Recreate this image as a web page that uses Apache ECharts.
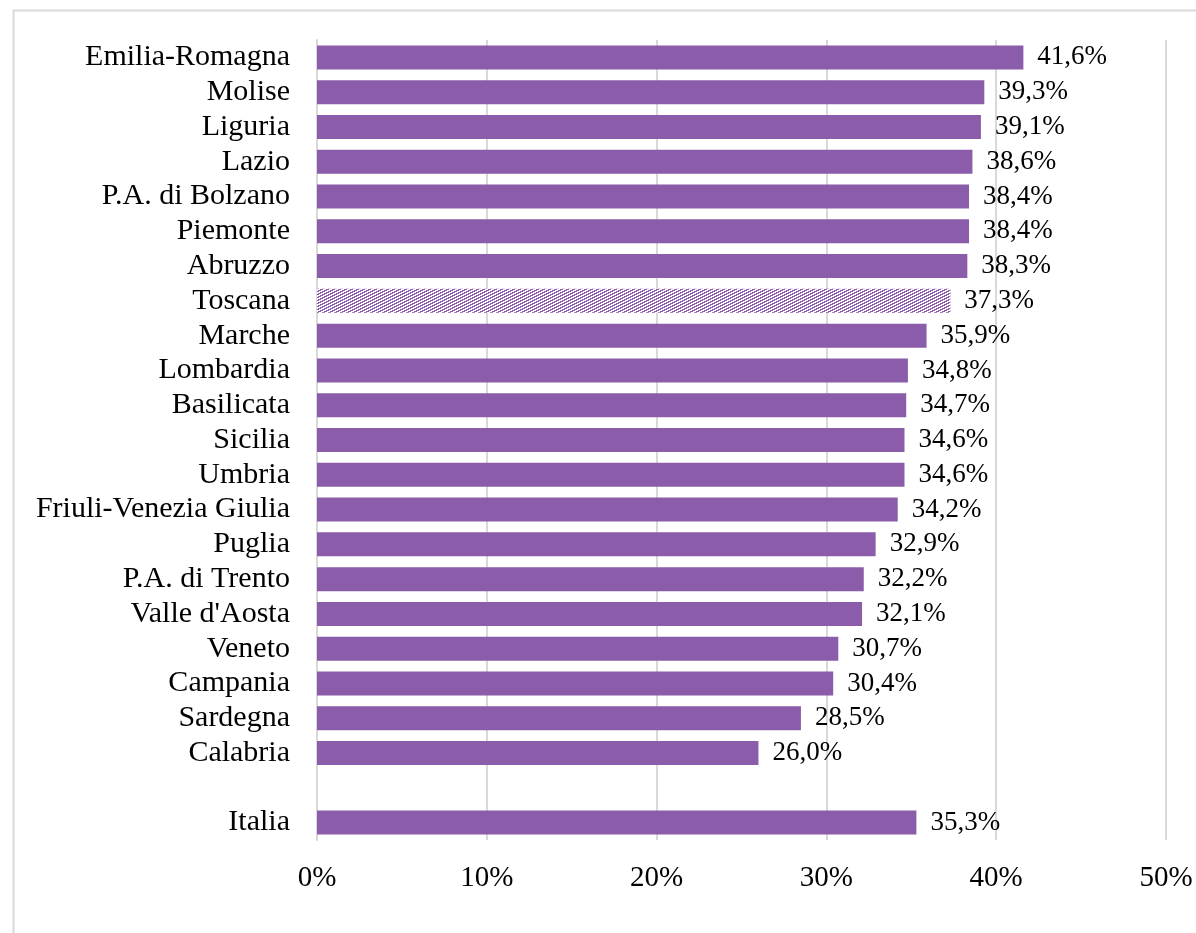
<!DOCTYPE html>
<html>
<head>
<meta charset="utf-8">
<script src="https://cdn.jsdelivr.net/npm/echarts@6/dist/echarts.min.js"></script>
<style>
  html, body { margin: 0; padding: 0; background: #fff; }
  #chart { width: 1196px; height: 933px; }
</style>
</head>
<body>
<div id="chart"></div>
<script>
// regioni (ordinate dall'alto), con una riga vuota prima di Italia
const regions = [
  'Emilia-Romagna', 'Molise', 'Liguria', 'Lazio', 'P.A. di Bolzano', 'Piemonte',
  'Abruzzo', 'Toscana', 'Marche', 'Lombardia', 'Basilicata', 'Sicilia', 'Umbria',
  'Friuli-Venezia Giulia', 'Puglia', 'P.A. di Trento', "Valle d'Aosta", 'Veneto',
  'Campania', 'Sardegna', 'Calabria', '', 'Italia'
]
const values = [
  41.6, 39.3, 39.1, 38.6, 38.4, 38.4,
  38.3, 37.3, 35.9, 34.8, 34.7, 34.6, 34.6,
  34.2, 32.9, 32.2, 32.1, 30.7,
  30.4, 28.5, 26.0, null, 35.3
]
const highlighted = 'Toscana'
const xTicks = [0, 10, 20, 30, 40, 50]

const PURPLE = '#8a5ca9'
const FONT = '"Liberation Serif", "DejaVu Serif", serif'

// tratteggio diagonale (gradini di 2px per riga) per la regione evidenziata
const makeHatch = () => {
  const c = document.createElement('canvas')
  c.width = 6
  c.height = 3
  const ctx = c.getContext('2d')
  ctx.fillStyle = '#fff'
  ctx.fillRect(0, 0, 6, 3)
  ctx.fillStyle = PURPLE
  for (let y = 0; y < 3; y++) {
    const x0 = 4 - 2 * y
    for (let k = 0; k < 3; k++) ctx.fillRect((x0 + k) % 6, y, 1, 1)
  }
  return c
}
const hatch = makeHatch()

const chart = echarts.init(document.getElementById('chart'))

chart.setOption({
  animation: false,
  backgroundColor: '#fff',
  graphic: [{
    type: 'rect',
    shape: { x: 13.5, y: 10.5, width: 1200, height: 940 },
    style: { fill: 'none', stroke: '#d9d9d9', lineWidth: 2 },
    silent: true
  }],
  grid: { left: 317, right: 30, top: 40, height: 800, containLabel: false },
  xAxis: {
    type: 'value',
    min: 0,
    max: 50,
    interval: 10,
    axisLine: { show: false },
    axisTick: { show: false },
    splitLine: { show: true, lineStyle: { color: '#d9d9d9', width: 2 } },
    axisLabel: {
      margin: 24,
      fontFamily: FONT,
      fontSize: 29,
      color: '#000',
      formatter: v => (xTicks.includes(v) ? v + '%' : '')
    }
  },
  yAxis: {
    type: 'category',
    inverse: true,
    data: regions,
    axisLine: { show: true, lineStyle: { color: '#d9d9d9', width: 2 } },
    axisTick: { show: false },
    axisLabel: {
      interval: 0,
      margin: 27,
      fontFamily: FONT,
      fontSize: 30,
      color: '#000'
    }
  },
  series: [{
    type: 'bar',
    barWidth: 24,
    data: values.map((v, i) => ({
      value: v,
      itemStyle: regions[i] === highlighted
        ? { color: { image: hatch, repeat: 'repeat' } }
        : { color: PURPLE }
    })),
    label: {
      show: true,
      position: 'right',
      distance: 14,
      fontFamily: FONT,
      fontSize: 27,
      color: '#000',
      formatter: p => (p.value == null ? '' : p.value.toFixed(1).replace('.', ',') + '%')
    }
  }]
})
</script>
</body>
</html>
